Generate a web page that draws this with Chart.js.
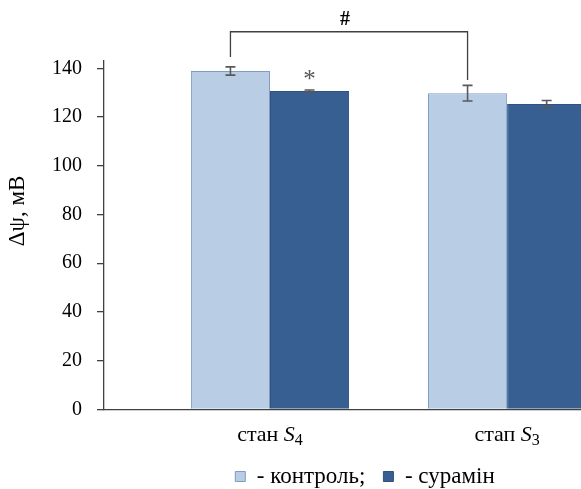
<!DOCTYPE html>
<html>
<head>
<meta charset="utf-8">
<script src="https://cdn.jsdelivr.net/npm/chart.js@4.4.0/dist/chart.umd.min.js"></script>
<style>
html, body { margin: 0; padding: 0; overflow: hidden; background: #fff; }
#wrap { position: relative; width: 740px; height: 489px; }
</style>
</head>
<body>
<div id="wrap"><canvas id="c"></canvas></div>
<script>
// ---- data ----
const categories = ['стан', 'стап'];
const categoryItalic = ['S', 'S'];
const categorySubscripts = ['4', '3'];
const categoryPositions = [1, 2];
const seriesNames = ['- контроль;', '- сурамін'];
const controlValues = [138.9, 129.8];
const controlErrors = [1.7, 3.2];
const suraminValues = [130.7, 125.3];
const suraminErrors = [0.4, 1.5];
const yTickValues = [0, 20, 40, 60, 80, 100, 120, 140];
const yAxisTitle = 'Δψ, мВ';
const significanceStar = '*';      // suramin vs control, стан S4
const bracketLabel = '#';          // control S4 vs control S3
const bracketLevel = 155;
const bracketLegEnds = [144.6, 135.2];

const FONT = "'Liberation Serif', 'Times New Roman', serif";

const toPoints = (vals) => vals.map((v, i) => ({ x: categoryPositions[i], y: v }));

const annotations = {
  id: 'annotations',
  afterDraw(chart) {
    const ctx = chart.ctx;
    const xs = chart.scales.x, ys = chart.scales.y;
    const metas = [chart.getDatasetMeta(0), chart.getDatasetMeta(1)];
    const errs = [controlErrors, suraminErrors];
    const vals = [controlValues, suraminValues];
    ctx.save();
    // error bars
    ctx.strokeStyle = '#595959';
    ctx.lineWidth = 1.6;
    metas.forEach((meta, d) => {
      meta.data.forEach((bar, i) => {
        const x = bar.x;
        const yt = ys.getPixelForValue(vals[d][i] + errs[d][i]);
        const yb = ys.getPixelForValue(vals[d][i] - errs[d][i]);
        ctx.beginPath();
        ctx.moveTo(x, yt); ctx.lineTo(x, yb);
        ctx.moveTo(x - 5, yt); ctx.lineTo(x + 5, yt);
        ctx.moveTo(x - 5, yb); ctx.lineTo(x + 5, yb);
        ctx.stroke();
      });
    });
    // star above suramin bar, стан S4
    const sb = metas[1].data[0];
    ctx.fillStyle = '#595959';
    ctx.font = '25px ' + FONT;
    ctx.textAlign = 'center';
    ctx.textBaseline = 'middle';
    ctx.fillText(significanceStar, sb.x, ys.getPixelForValue(suraminValues[0] + suraminErrors[0]) - 10);
    // bracket between control bars
    const b0 = metas[0].data[0], b1 = metas[0].data[1];
    const yTop = ys.getPixelForValue(bracketLevel);
    ctx.strokeStyle = '#404040';
    ctx.lineWidth = 1.3;
    ctx.beginPath();
    ctx.moveTo(b0.x, ys.getPixelForValue(bracketLegEnds[0]));
    ctx.lineTo(b0.x, yTop);
    ctx.lineTo(b1.x, yTop);
    ctx.lineTo(b1.x, ys.getPixelForValue(bracketLegEnds[1]));
    ctx.stroke();
    ctx.fillStyle = '#000';
    ctx.font = 'bold 20px ' + FONT;
    ctx.fillText(bracketLabel, (b0.x + b1.x) / 2 - 4, yTop - 12);
    // x category labels
    ctx.fillStyle = '#000';
    ctx.textBaseline = 'alphabetic';
    ctx.textAlign = 'left';
    categories.forEach((c, i) => {
      const cx = xs.getPixelForValue(categoryPositions[i]);
      const base = ys.bottom + 32;
      const f1 = '22px ' + FONT, f2 = 'italic 22px ' + FONT, f3 = '16px ' + FONT;
      ctx.font = f1; const w1 = ctx.measureText(c + ' ').width;
      ctx.font = f2; const w2 = ctx.measureText(categoryItalic[i]).width;
      ctx.font = f3; const w3 = ctx.measureText(categorySubscripts[i]).width;
      let x = cx - (w1 + w2 + w3) / 2;
      ctx.font = f1; ctx.fillText(c + ' ', x, base); x += w1;
      ctx.font = f2; ctx.fillText(categoryItalic[i], x, base); x += w2;
      ctx.font = f3; ctx.fillText(categorySubscripts[i], x, base + 4);
    });
    // y axis title
    ctx.translate(18, 211);
    ctx.rotate(-Math.PI / 2);
    ctx.textAlign = 'center';
    ctx.textBaseline = 'middle';
    ctx.font = '23px ' + FONT;
    ctx.fillText(yAxisTitle, 0, 0);
    ctx.restore();
  }
};

new Chart(document.getElementById('c'), {
  type: 'bar',
  data: {
    datasets: [
      { label: seriesNames[0], data: toPoints(controlValues), backgroundColor: '#b9cde5', borderColor: '#7f9cc4', borderWidth: 1 },
      { label: seriesNames[1], data: toPoints(suraminValues), backgroundColor: '#375f92', borderColor: '#2f5280', borderWidth: 1 }
    ]
  },
  options: {
    responsive: true,
    maintainAspectRatio: false,
    animation: false,
    layout: { padding: { top: 61, right: 10, left: 0, bottom: -9 } },
    datasets: { bar: { categoryPercentage: 0.667, barPercentage: 1.0, grouped: true } },
    scales: {
      x: {
        type: 'linear',
        offset: false,
        min: 0.3,
        max: 2.94,
        afterBuildTicks: (s) => { s.ticks = categoryPositions.map(v => ({ value: v })); },
        afterFit: (s) => { s.height = 37.6; },
        ticks: { display: false },
        grid: { display: false, offset: false },
        border: { display: true, color: '#404040', width: 1.3 }
      },
      y: {
        min: 0,
        max: 143,
        afterBuildTicks: (s) => { s.ticks = yTickValues.map(v => ({ value: v })); },
        afterFit: (s) => { s.width = 104; },
        ticks: { color: '#000', font: { family: FONT, size: 20 }, padding: 15 },
        grid: { drawOnChartArea: false, drawTicks: true, tickLength: 7, color: '#404040', lineWidth: 1.3 },
        border: { display: true, color: '#404040', width: 1.3 }
      }
    },
    plugins: {
      legend: {
        position: 'bottom',
        labels: { boxWidth: 10, boxHeight: 10, padding: 18, color: '#000', font: { family: FONT, size: 23 } }
      },
      tooltip: { enabled: false }
    }
  },
  plugins: [annotations]
});
</script>
</body>
</html>
